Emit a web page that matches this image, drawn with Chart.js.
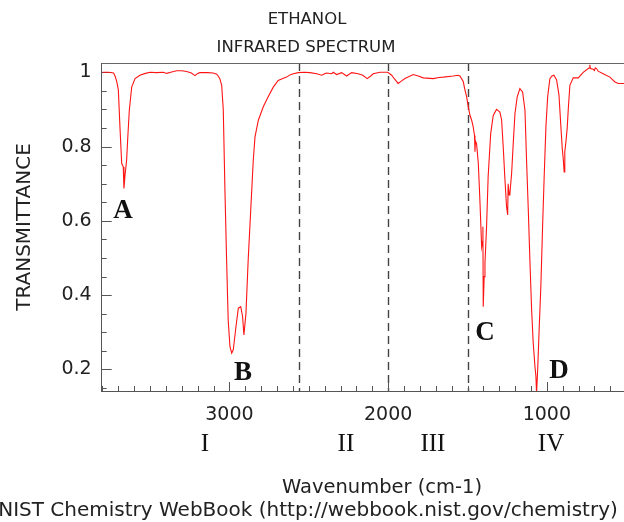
<!DOCTYPE html>
<html>
<head>
<meta charset="utf-8">
<title>Ethanol IR spectrum</title>
<script src="https://cdn.jsdelivr.net/npm/chart.js@4.4.1/dist/chart.umd.min.js"></script>
<style>
  html, body { margin: 0; padding: 0; background: #fff; }
  canvas { display: block; }
</style>
</head>
<body>
<canvas id="irChart" width="624" height="522"></canvas>
<script>
// spectrum (wavenumber in cm-1, transmittance 0..1)
const wavenumbers = [
  3800, 3760, 3730, 3721, 3710, 3700, 3690, 3679, 3669, 3665, 3658, 3648, 3640, 3631, 3616,
  3595, 3564, 3530, 3500, 3460, 3417, 3396, 3370, 3333, 3300, 3270, 3240, 3217, 3200, 3186,
  3140, 3102, 3080, 3071, 3060, 3049, 3039, 3028, 3018, 3008, 2997, 2986, 2976, 2959, 2944,
  2929, 2917, 2909, 2896, 2882, 2866, 2850, 2839, 2818, 2787, 2756, 2724, 2693, 2660, 2640,
  2619, 2598, 2566, 2530, 2493, 2450, 2419, 2400, 2388, 2356, 2346, 2325, 2293, 2262, 2230,
  2189, 2160, 2132, 2110, 2094, 2052, 2003, 1978, 1960, 1937, 1915, 1894, 1842, 1810, 1779,
  1716, 1680, 1653, 1590, 1560, 1548, 1527, 1516, 1506, 1495, 1485, 1474, 1464, 1456, 1453,
  1450, 1443, 1432, 1422, 1411, 1405, 1403, 1401, 1395, 1390, 1380, 1370, 1354, 1338, 1317,
  1296, 1285, 1275, 1264, 1254, 1247, 1244, 1238, 1233, 1222, 1212, 1201, 1187, 1170, 1153,
  1138, 1128, 1117, 1107, 1096, 1086, 1075, 1069, 1065, 1058, 1048, 1038, 1027, 1017, 1006,
  995, 981, 968, 956, 939, 924, 911, 903, 897, 891, 887, 880, 872, 865, 855,
  834, 802, 771, 739, 731, 729, 726, 708, 700, 695, 687, 677, 645, 603, 571,
  550, 512
];
const transmittance = [
  1.0, 1.0, 0.998, 0.99, 0.975, 0.952, 0.853, 0.755, 0.745, 0.687, 0.723, 0.763, 0.83, 0.898, 0.96,
  0.983, 0.992, 0.997, 1.0, 0.999, 1.0, 0.997, 1.0, 1.004, 1.004, 1.002, 0.998, 0.991, 0.997, 0.999,
  0.999, 0.998, 0.995, 0.99, 0.982, 0.965, 0.9, 0.674, 0.495, 0.333, 0.262, 0.244, 0.253, 0.315, 0.365,
  0.369, 0.342, 0.293, 0.351, 0.495, 0.629, 0.763, 0.826, 0.871, 0.907, 0.934, 0.96, 0.978, 0.984, 0.987,
  0.993, 0.996, 0.999, 1.0, 0.999, 0.996, 0.992, 0.996, 0.998, 0.996, 1.0, 0.994, 0.999, 0.99, 0.999,
  0.996, 0.992, 0.983, 0.99, 0.996, 1.0, 1.0, 0.992, 0.982, 0.97, 0.977, 0.983, 0.994, 0.99, 0.985,
  0.983, 0.986, 0.987, 0.99, 0.992, 0.99, 0.975, 0.952, 0.935, 0.907, 0.885, 0.871, 0.853, 0.83, 0.786,
  0.815, 0.808, 0.755, 0.656, 0.53, 0.545, 0.584, 0.369, 0.45, 0.486, 0.584, 0.719, 0.835, 0.884, 0.9,
  0.893, 0.871, 0.799, 0.71, 0.638, 0.616, 0.7, 0.67, 0.674, 0.728, 0.808, 0.889, 0.934, 0.956, 0.947,
  0.898, 0.763, 0.629, 0.495, 0.36, 0.271, 0.208, 0.181, 0.135, 0.199, 0.315, 0.423, 0.584, 0.719, 0.853,
  0.934, 0.983, 0.99, 0.992, 0.98, 0.94, 0.849, 0.795, 0.768, 0.732, 0.786, 0.813, 0.849, 0.902, 0.965,
  0.985, 0.985, 1.0, 1.01, 1.012, 1.02, 1.01, 1.008, 1.005, 1.012, 1.01, 1.003, 0.996, 0.987, 0.974,
  0.97, 0.97
];

// axis ticks: labelled majors plus the unlabelled minor marks between them
const xTickValues = [
  3800, 3700, 3600, 3500, 3400, 3300, 3200, 3100, 3000, 2900, 2800, 2700, 2600, 2500, 2400,
  2300, 2200, 2100, 2000, 1900, 1800, 1700, 1600, 1500, 1400, 1300, 1200, 1100, 1000, 900,
  800, 700, 600
];
const xTickLabels = ["3000", "2000", "1000"];
const yTickValues = [
  0.15, 0.2, 0.25, 0.3, 0.35, 0.4, 0.45, 0.5, 0.55, 0.6, 0.65, 0.7, 0.75, 0.8, 0.85, 0.9, 0.95, 1.0
];
const yTickLabels = ["0.2", "0.4", "0.6", "0.8", "1"];

// dashed region boundaries and the hand-added labels
const regionBounds = [2560, 2000, 1500];
const regionNames = ["I", "II", "III", "IV"];
const regionCenters = [3154, 2266, 1718, 974];
const peakNames = ["A", "B", "C", "D"];
const peakWavenumbers = [3671, 2915, 1390, 924];
const peakHeights = [0.6075, 0.172, 0.2796, 0.177];

const xMin = 514, xMax = 3805;
const yMin = 0.142, yMax = 1.025;

function xLabel(v) {
  const s = String(Math.round(v));
  return xTickLabels.includes(s) ? s : "";
}
function yLabel(v) {
  const s = Math.abs(v - 1) < 1e-6 ? "1" : v.toFixed(1);
  return (yTickLabels.includes(s) && Math.abs(parseFloat(s) - v) < 1e-6) ? s : "";
}

const overlay = {
  id: "overlay",
  beforeDatasetsDraw(chart) {
    const { ctx, chartArea, scales } = chart;
    ctx.save();
    // dashed vertical region lines
    ctx.strokeStyle = "#444";
    ctx.lineWidth = 1.4;
    ctx.setLineDash([8, 5]);
    regionBounds.forEach(wn => {
      const x = Math.round(scales.x.getPixelForValue(wn)) + 0.5;
      ctx.beginPath();
      ctx.moveTo(x, chartArea.top);
      ctx.lineTo(x, chartArea.bottom);
      ctx.stroke();
    });
    ctx.setLineDash([]);

    // top frame line
    ctx.strokeStyle = "#666";
    ctx.lineWidth = 1;
    ctx.beginPath();
    ctx.moveTo(chartArea.left, chartArea.top + 0.5);
    ctx.lineTo(chartArea.right, chartArea.top + 0.5);
    ctx.stroke();

    // inward tick marks
    ctx.strokeStyle = "#555";
    scales.x.ticks.forEach(t => {
      const x = Math.round(scales.x.getPixelForValue(t.value)) + 0.5;
      const len = xLabel(t.value) ? 9 : 5;
      ctx.beginPath();
      ctx.moveTo(x, chartArea.bottom);
      ctx.lineTo(x, chartArea.bottom - len);
      ctx.stroke();
    });
    scales.y.ticks.forEach(t => {
      const y = Math.round(scales.y.getPixelForValue(t.value)) + 0.5;
      const len = yLabel(t.value) ? 10 : 5;
      ctx.beginPath();
      ctx.moveTo(chartArea.left, y);
      ctx.lineTo(chartArea.left + len, y);
      ctx.stroke();
    });
    ctx.restore();
  },
  afterDraw(chart) {
    const { ctx, scales } = chart;
    ctx.save();
    ctx.fillStyle = "#222";
    ctx.textAlign = "center";
    ctx.textBaseline = "alphabetic";

    ctx.font = "16.5px 'DejaVu Sans'";
    ctx.fillText("ETHANOL", 307, 24);
    ctx.fillText("INFRARED SPECTRUM", 306, 52);

    ctx.font = "19.5px 'DejaVu Sans'";
    ctx.fillText("Wavenumber (cm-1)", 382, 493);
    ctx.font = "20px 'DejaVu Sans'";
    ctx.fillText("NIST Chemistry WebBook (http://webbook.nist.gov/chemistry)", 308, 516);

    ctx.save();
    ctx.translate(29.5, 227);
    ctx.rotate(-Math.PI / 2);
    ctx.font = "20px 'DejaVu Sans'";
    ctx.fillText("TRANSMITTANCE", 0, 0);
    ctx.restore();

    ctx.fillStyle = "#111";
    ctx.font = "25px 'Liberation Serif'";
    regionNames.forEach((name, i) => {
      ctx.fillText(name, scales.x.getPixelForValue(regionCenters[i]), 451);
    });

    ctx.font = "bold 27px 'Liberation Serif'";
    peakNames.forEach((name, i) => {
      ctx.fillText(name,
        scales.x.getPixelForValue(peakWavenumbers[i]),
        scales.y.getPixelForValue(peakHeights[i]));
    });
    ctx.restore();
  }
};

const ctx = document.getElementById("irChart").getContext("2d");

new Chart(ctx, {
  type: "line",
  data: {
    datasets: [
      {
        label: "Ethanol",
        data: wavenumbers.map((wn, i) => ({ x: wn, y: transmittance[i] })),
        borderColor: "rgb(255,20,20)",
        borderWidth: 1.1,
        pointRadius: 0,
        tension: 0,
        fill: false
      }
    ]
  },
  options: {
    responsive: false,
    animation: false,
    layout: {
      autoPadding: false,
      padding: { top: 63, left: 0, right: 0, bottom: 0 }
    },
    plugins: {
      legend: { display: false },
      tooltip: { enabled: false }
    },
    scales: {
      x: {
        type: "linear",
        reverse: true,
        min: xMin,
        max: xMax,
        afterBuildTicks: s => { s.ticks = xTickValues.map(v => ({ value: v })); },
        afterFit: s => {
          s.height = 131;
          s.paddingLeft = 0;
          s.paddingRight = 0;
        },
        ticks: {
          autoSkip: false,
          maxRotation: 0,
          padding: 13,
          color: "#222",
          font: { family: "DejaVu Sans", size: 19 },
          callback: v => xLabel(v)
        },
        grid: { display: false, drawTicks: false },
        border: { display: true, color: "#555", width: 1 }
      },
      y: {
        min: yMin,
        max: yMax,
        afterBuildTicks: s => { s.ticks = yTickValues.map(v => ({ value: v })); },
        afterFit: s => {
          s.width = 101.7;
          s.paddingTop = 0;
          s.paddingBottom = 0;
        },
        ticks: {
          autoSkip: false,
          padding: 10,
          color: "#222",
          font: { family: "DejaVu Sans", size: 19 },
          callback: v => yLabel(v)
        },
        grid: { display: false, drawTicks: false },
        border: { display: true, color: "#555", width: 1 }
      }
    }
  },
  plugins: [overlay]
});
</script>
</body>
</html>
